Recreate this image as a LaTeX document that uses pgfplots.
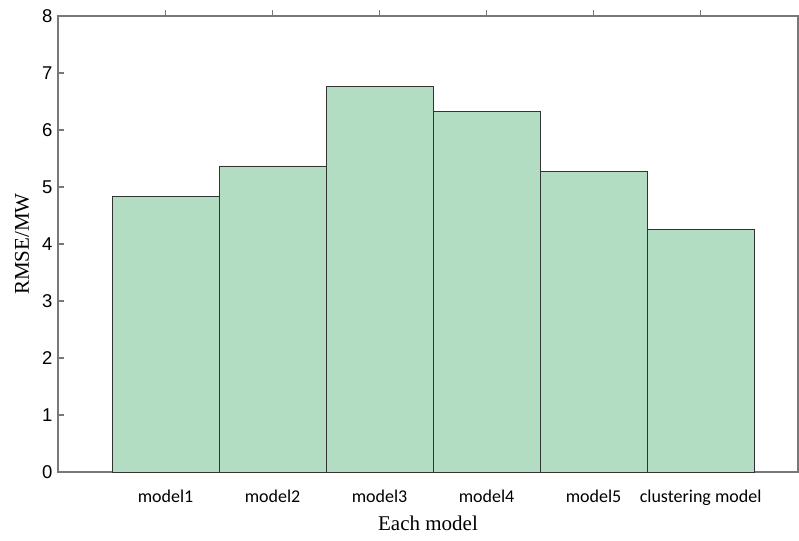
\documentclass[border=0pt]{standalone}
\usepackage{fontspec}
\setmainfont{Liberation Serif}
\newfontfamily\arialf{Liberation Sans}
\newfontfamily\calibrif{Carlito}
\usepackage{pgfplots}
\pgfplotsset{compat=1.18}
\definecolor{barfill}{RGB}{179,221,194}
\definecolor{axgray}{RGB}{120,120,120}
\begin{document}
\begin{tikzpicture}[x=1bp,y=1bp]
\begin{axis}[
  scale only axis,
  width=740bp, height=456bp,
  xmin=-1.005, xmax=5.91,
  ymin=0, ymax=8,
  ytick={0,1,...,8},
  xtick={0,1,2,3,4,5},
  xticklabels={model1,model2,model3,model4,model5,clustering model},
  xticklabel style={font=\calibrif\fontsize{18bp}{20bp}\selectfont, yshift=-8bp},
  yticklabel style={font=\arialf\fontsize{18.5bp}{20bp}\selectfont, xshift=-2bp},
  /pgf/number format/assume math mode=true,
  tick align=inside,
  major tick length=6bp,
  xtick pos=upper,
  xticklabel pos=lower,
  ytick pos=left,
  axis line style={axgray, line width=1.2bp},
  every tick/.style={axgray, line width=1.2bp},
  ylabel={RMSE/MW},
  xlabel={Each model},
  label style={font=\fontsize{21bp}{24bp}\selectfont},
  ylabel style={at={(axis description cs:-0.0485,0.5)}, anchor=center, rotate=0},
  xlabel style={at={(axis description cs:0.5,0)}, anchor=north, yshift=-40bp},
  ybar, bar width=1, bar shift=0pt,
  clip=false,
]
\addplot[fill=barfill, draw=black!80, line width=0.8bp] coordinates {
  (0,4.84) (1,5.37) (2,6.77) (3,6.32) (4,5.28) (5,4.26)
};
\end{axis}
\pgfresetboundingbox
\path[use as bounding box] (current axis.south west) ++(-58bp,-69bp) rectangle ++(799bp,541bp);
\end{tikzpicture}
\end{document}
